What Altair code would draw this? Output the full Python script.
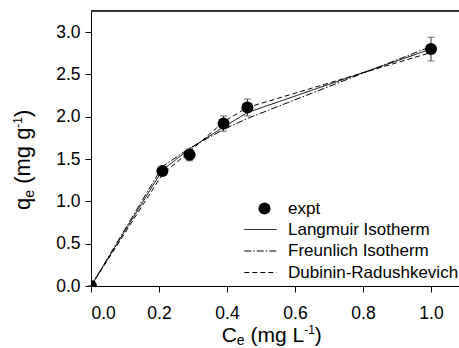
import altair as alt
import pandas as pd

# ---- data ----
ce = [0.0, 0.21, 0.29, 0.39, 0.46, 1.0]
qe = [0.0, 1.36, 1.55, 1.92, 2.11, 2.80]
qe_err = [0.0, 0.03, 0.07, 0.09, 0.10, 0.14]

langmuir = [0.0, 1.37, 1.62, 1.88, 2.05, 2.80]
freundlich = [0.0, 1.41, 1.63, 1.85, 1.98, 2.83]
dubinin = [0.0, 1.32, 1.59, 1.94, 2.11, 2.76]
model_names = ["Langmuir Isotherm", "Freunlich Isotherm", "Dubinin-Radushkevich"]

x_ticks = [0.0, 0.1, 0.2, 0.3, 0.4, 0.5, 0.6, 0.7, 0.8, 0.9, 1.0]
y_ticks = [0.0, 0.25, 0.5, 0.75, 1.0, 1.25, 1.5, 1.75, 2.0, 2.25, 2.5, 2.75, 3.0]

# axis titles, split into normal / subscript / superscript parts
x_title_parts = ["C", "e", "(mg L", "-1", ")"]
y_title_parts = ["q", "e", "(mg g", "-1", ")"]
title_roles = ["main", "sub", "main", "sup", "main"]

x_max = 1.0824
y_max = 3.25

FONT = "Liberation Sans"

expt = pd.DataFrame({
    "ce": ce,
    "qe": qe,
    "lo": [q - e for q, e in zip(qe, qe_err)],
    "hi": [q + e for q, e in zip(qe, qe_err)],
    "series": ["expt"] * len(ce),
})

rows = []
for name, vals in zip(model_names, [langmuir, freundlich, dubinin]):
    for x, y in zip(ce, vals):
        rows.append({"ce": x, "q": y, "model": name})
models = pd.DataFrame(rows)

xscale = alt.Scale(domain=[0, x_max], nice=False, zero=False)
yscale = alt.Scale(domain=[0, y_max], nice=False, zero=False)

x_axis = alt.Axis(
    values=x_ticks,
    labelExpr="abs(datum.value*5 - round(datum.value*5)) < 0.001 ? format(datum.value, '.1f') : ''",
    tickSize={"condition": {"test": "abs(datum.value*5 - round(datum.value*5)) < 0.001", "value": 6}, "value": 4},
    title=None,
    labelPadding=12,
)
y_axis = alt.Axis(
    values=y_ticks,
    labelExpr="abs(datum.value*2 - round(datum.value*2)) < 0.001 ? format(datum.value, '.1f') : ''",
    tickSize={"condition": {"test": "abs(datum.value*2 - round(datum.value*2)) < 0.001", "value": 6}, "value": 4},
    title=None,
    labelPadding=5,
)

lines = alt.Chart(models).mark_line(color="black", strokeWidth=1).encode(
    x=alt.X("ce:Q", scale=xscale, axis=x_axis),
    y=alt.Y("q:Q", scale=yscale, axis=y_axis),
    strokeDash=alt.StrokeDash(
        "model:N",
        scale=alt.Scale(domain=model_names, range=[[1, 0], [7, 2, 1.5, 2], [5, 3]]),
        sort=model_names,
        legend=alt.Legend(
            title=None,
            orient="none",
            legendX=160,
            legendY=209,
            symbolType="M-1.8,0H1.8",
            symbolSize=324,
            symbolStrokeColor="black",
            symbolStrokeWidth=1,
            labelFont=FONT,
            labelFontSize=17,
            labelColor="black",
            labelLimit=400,
            labelOffset=18,
            rowPadding=3.5,
            padding=0,
        ),
    ),
)

errs = alt.Chart(expt).mark_rule(color="#333333", strokeWidth=1).encode(
    x=alt.X("ce:Q", scale=xscale),
    y=alt.Y("lo:Q", scale=yscale),
    y2="hi:Q",
)
caps_hi = alt.Chart(expt).mark_tick(color="#333333", thickness=1, size=7, orient="horizontal").encode(
    x=alt.X("ce:Q", scale=xscale),
    y=alt.Y("hi:Q", scale=yscale),
)
caps_lo = alt.Chart(expt).mark_tick(color="#333333", thickness=1, size=7, orient="horizontal").encode(
    x=alt.X("ce:Q", scale=xscale),
    y=alt.Y("lo:Q", scale=yscale),
)

points = alt.Chart(expt).mark_point(filled=True, color="black", size=145, opacity=1, clip=True).encode(
    x=alt.X("ce:Q", scale=xscale),
    y=alt.Y("qe:Q", scale=yscale),
    shape=alt.Shape(
        "series:N",
        scale=alt.Scale(domain=["expt"], range=["circle"]),
        legend=alt.Legend(
            title=None,
            orient="none",
            legendX=165,
            legendY=189,
            symbolSize=145,
            symbolFillColor="black",
            symbolStrokeColor="black",
            labelFont=FONT,
            labelFontSize=17,
            labelColor="black",
            labelOffset=15,
            padding=0,
        ),
    ),
)

top_border = alt.Chart(expt).mark_rule(color="#333333", strokeWidth=1).encode(
    y=alt.datum(y_max, scale=yscale)
)

# ---- axis titles as rich text (subscript / superscript pieces) ----
# approximate advance widths (Arial metrics, em units)
em = {"C": 0.722, "q": 0.556, "e": 0.556, "(mg L": 2.556, "(mg g": 2.556, "-1": 0.889, ")": 0.333}
SPACE = 0.278

title_layers = []
# x title: horizontal
x_shift = {"main": 0, "sub": 3, "sup": -8}
x_sizes = {"main": 21, "sub": 14, "sup": 12}
pos = 130.7
for i, (part, role) in enumerate(zip(x_title_parts, title_roles)):
    fs = x_sizes[role]
    if i == 2:
        pos += SPACE * fs
    title_layers.append(
        alt.Chart(pd.DataFrame({"t": [part]})).mark_text(
            font=FONT, fontSize=fs, color="black", align="left", baseline="alphabetic"
        ).encode(text="t:N", x=alt.value(pos), y=alt.value(331 + x_shift[role]))
    )
    pos += em[part] * fs

# y title: rotated, reading bottom to top
y_shift = {"main": 0, "sub": 4, "sup": -8}
y_sizes = {"main": 22, "sub": 14, "sup": 12}
pos = 199
for i, (part, role) in enumerate(zip(y_title_parts, title_roles)):
    fs = y_sizes[role]
    if i == 2:
        pos -= SPACE * fs
    title_layers.append(
        alt.Chart(pd.DataFrame({"t": [part]})).mark_text(
            font=FONT, fontSize=fs, color="black", align="left", baseline="alphabetic", angle=270
        ).encode(text="t:N", x=alt.value(-61 + y_shift[role]), y=alt.value(pos))
    )
    pos -= em[part] * fs

chart = alt.layer(lines, errs, caps_hi, caps_lo, points, top_border, *title_layers).properties(
    width=368,
    height=275,
    autosize=alt.AutoSizeParams(type="none"),
    padding={"left": 91, "top": 11, "right": 0, "bottom": 62},
    background="white",
).resolve_legend(
    shape="independent", strokeDash="independent"
).configure_view(
    stroke=None
).configure_axis(
    domainColor="black",
    tickColor="black",
    domainWidth=1,
    tickWidth=1,
    grid=False,
    labelFont=FONT,
    labelFontSize=17.5,
    labelColor="black",
)

chart.save("out.html", embed_options={"renderer": "svg", "actions": False})
